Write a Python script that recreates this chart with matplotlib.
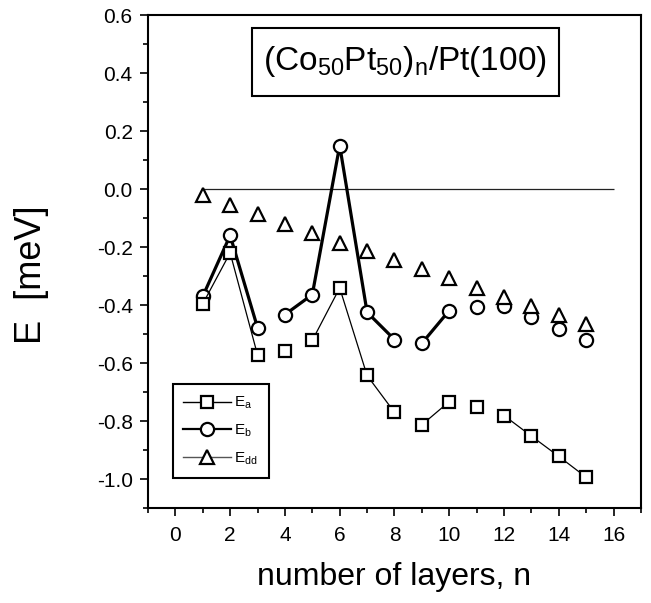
import matplotlib
matplotlib.use("Agg")
import matplotlib.pyplot as plt
from matplotlib.lines import Line2D
from matplotlib.patches import Rectangle
from matplotlib.ticker import MultipleLocator

plt.rcParams.update({
    "font.family": ["Liberation Sans", "DejaVu Sans"],
    "mathtext.fontset": "custom",
    "mathtext.rm": "Liberation Sans",
    "mathtext.it": "Liberation Sans",
})

# ---------------------------------------------------------------------------
# Data
# ---------------------------------------------------------------------------
n_layers = list(range(1, 16))
E_a = [-0.396, -0.22, -0.572, -0.56, -0.522, -0.341, -0.643, -0.77,
       -0.813, -0.733, -0.752, -0.781, -0.852, -0.922, -0.994]
E_b = [-0.37, -0.16, -0.478, -0.433, -0.364, 0.15, -0.425, -0.519,
       -0.532, -0.419, -0.408, -0.405, -0.442, -0.482, -0.52]
E_dd = [-0.022, -0.054, -0.087, -0.119, -0.15, -0.185, -0.213, -0.246,
        -0.277, -0.308, -0.34, -0.371, -0.403, -0.434, -0.467]

# connected runs (by n) for the lines
segs_a = [(1, 3), (5, 8), (9, 10), (12, 15)]
segs_b = [(1, 3), (4, 8), (9, 10)]

labels = [r"E$_\mathregular{a}$", r"E$_\mathregular{b}$", r"E$_\mathregular{dd}$"]
title_txt = r"(Co$_\mathregular{50}$Pt$_\mathregular{50}$)$_\mathregular{n}$/Pt(100)"

# ---------------------------------------------------------------------------
fig = plt.figure(figsize=(6.51, 6.03), dpi=100)
ax = fig.add_axes([0.2273, 0.1575, 0.7573, 0.8176])

ax.hlines(0.0, 1, 16, color="#222222", lw=0.9, zorder=1)

mk = dict(markerfacecolor="white", markeredgecolor="black", markeredgewidth=1.6)


def draw_segments(x, y, segs, lw, z):
    for a, b in segs:
        xs = [v for v in x if a <= v <= b]
        ys = [y[x.index(v)] for v in xs]
        ax.plot(xs, ys, color="black", lw=lw, zorder=z)


draw_segments(n_layers, E_b, segs_b, 2.3, 2)
ax.plot(n_layers, E_b, ls="none", marker="o", ms=9.5, zorder=3, **mk)
draw_segments(n_layers, E_a, segs_a, 0.9, 4)
ax.plot(n_layers, E_a, ls="none", marker="s", ms=8.3, zorder=5, **mk)
ax.plot(n_layers, E_dd, ls="none", marker="^", ms=10.5, zorder=6, **mk)

ax.set_xlim(-1, 17)
ax.set_ylim(-1.1, 0.6)
ax.xaxis.set_major_locator(MultipleLocator(2))
ax.xaxis.set_minor_locator(MultipleLocator(1))
ax.yaxis.set_major_locator(MultipleLocator(0.2))
ax.yaxis.set_minor_locator(MultipleLocator(0.1))
ax.yaxis.set_major_formatter(plt.FuncFormatter(lambda v, p: "{:.1f}".format(v)))

for s in ax.spines.values():
    s.set_linewidth(1.5)
ax.tick_params(which="major", direction="out", length=6, width=1.2,
               labelsize=15, pad=5)
ax.tick_params(axis="x", which="major", pad=7)
ax.tick_params(which="minor", direction="out", length=3.5, width=1.2)

ax.set_xlabel("number of layers, n", fontsize=23, labelpad=12)
ax.set_ylabel("E  [meV]", fontsize=26)
ax.yaxis.set_label_coords(-0.2, 0.473)

# label box in the upper part of the panel
ax.add_patch(Rectangle((0.211, 0.836), 0.623, 0.138, transform=ax.transAxes,
                       facecolor="white", edgecolor="black", linewidth=1.5,
                       zorder=7))
ax.text(0.522, 0.905, title_txt, transform=ax.transAxes, fontsize=24,
        ha="center", va="center", zorder=8)

handles = [
    Line2D([], [], color="black", lw=1.0, marker="s", ms=8.3, **mk),
    Line2D([], [], color="black", lw=1.6, marker="o", ms=9.5, **mk),
    Line2D([], [], color="#555555", lw=1.0, marker="^", ms=10.5, **mk),
]
leg = ax.legend(handles, labels, loc="lower left",
                bbox_to_anchor=(0.05, 0.0615), borderaxespad=0,
                fontsize=11, handlelength=3.1, handletextpad=0.25,
                labelspacing=0.75, borderpad=0.7, fancybox=False,
                framealpha=1, edgecolor="black")
leg.get_frame().set_linewidth(1.5)

fig.savefig("out.png", dpi=100)
